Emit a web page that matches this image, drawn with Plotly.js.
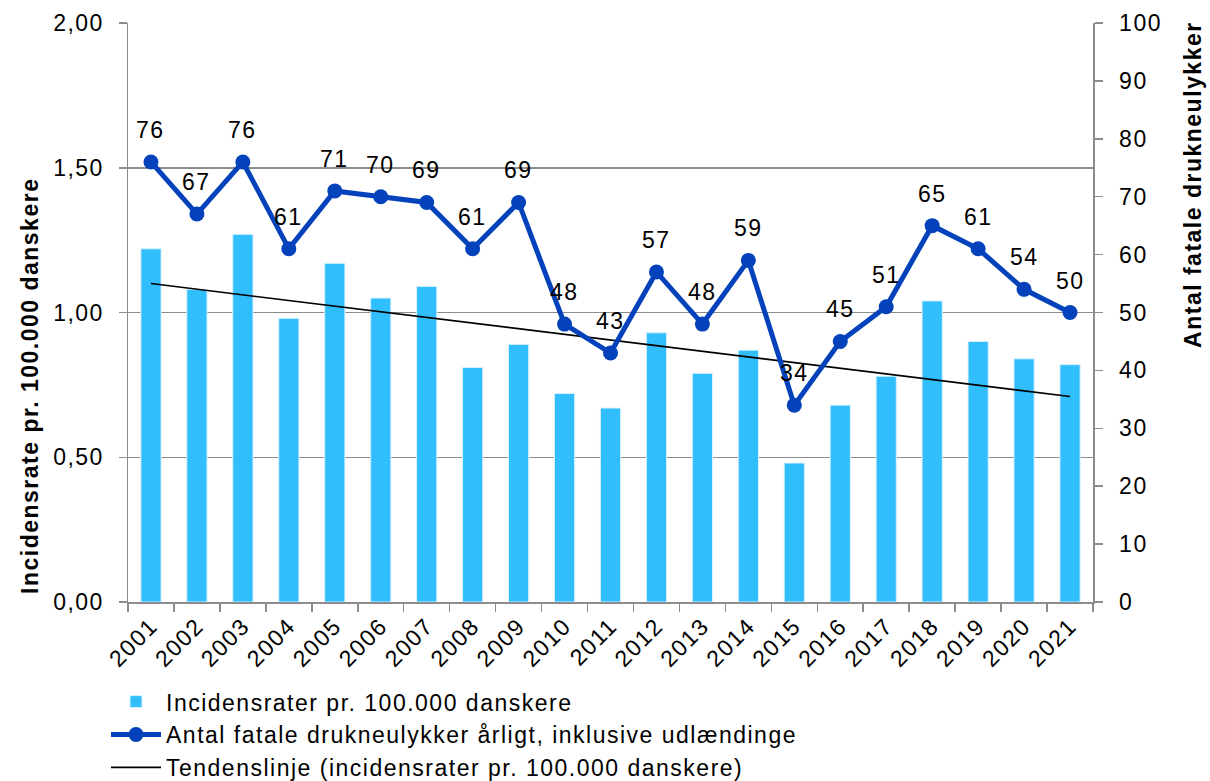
<!DOCTYPE html>
<html>
<head>
<meta charset="utf-8">
<script src="https://cdn.plot.ly/plotly-3.0.1.min.js"></script>
<style>
html,body{margin:0;padding:0;background:#fff;}
#chart{width:1210px;height:781px;}
svg text{letter-spacing:1.5px;}
</style>
</head>
<body>
<div id="chart"></div>
<script>
const years = [2001,2002,2003,2004,2005,2006,2007,2008,2009,2010,2011,2012,2013,2014,2015,2016,2017,2018,2019,2020,2021];
const yearLabels = ['2001','2002','2003','2004','2005','2006','2007','2008','2009','2010','2011','2012','2013','2014','2015','2016','2017','2018','2019','2020','2021'];
const incidence = [1.22,1.08,1.27,0.98,1.17,1.05,1.09,0.81,0.89,0.72,0.67,0.93,0.79,0.87,0.48,0.68,0.78,1.04,0.90,0.84,0.82];
const fatalities = [76,67,76,61,71,70,69,61,69,48,43,57,48,59,34,45,51,65,61,54,50];
const trendYears = [2001,2021];
const trendValues = [1.10,0.71];

const barName = 'Incidensrater pr. 100.000 danskere';
const lineName = 'Antal fatale drukneulykker årligt, inklusive udlændinge';
const trendName = 'Tendenslinje (incidensrater pr. 100.000 danskere)';
const leftTitle = 'Incidensrate pr. 100.000 danskere';
const rightTitle = 'Antal fatale drukneulykker';

const font = 'Liberation Sans, Arial, sans-serif';
const fs = 23;
const gray = '#8C8C8C';

const traces = [
  {type:'bar', x: years, y: incidence, name: barName, width:0.44,
   marker:{color:'#31BEFC', line:{color:'#D8F1FF', width:1}}, yaxis:'y'},
  {type:'scatter', mode:'lines+markers', x: years, y: fatalities, name: lineName, yaxis:'y2',
   line:{color:'#0342BA', width:5}, marker:{color:'#0342BA', size:15}},
  {type:'scatter', mode:'lines', x: trendYears, y: trendValues, name: trendName, yaxis:'y',
   line:{color:'#000000', width:1.6}}
];

const annotations = years.map((yr, i) => ({
  x: yr, y: fatalities[i], xref:'x', yref:'y2', text: String(fatalities[i]),
  showarrow:false, yshift: 32, font:{family:font, size:fs, color:'#000'}
}));
annotations.push({xref:'paper', yref:'paper', x:-0.1016, y:0.373, text:leftTitle, textangle:-90,
  showarrow:false, xanchor:'center', yanchor:'middle', font:{family:font, size:fs, color:'#000', weight:'bold'}});
annotations.push({xref:'paper', yref:'paper', x:1.1036, y:0.722, text:rightTitle, textangle:-90,
  showarrow:false, xanchor:'center', yanchor:'middle', font:{family:font, size:fs, color:'#000', weight:'bold'}});

const layout = {
  width:1210, height:781,
  margin:{l:128, r:117, t:23, b:179, autoexpand:false},
  paper_bgcolor:'#fff', plot_bgcolor:'#fff',
  separators: ',.',
  font:{family:font, size:fs, color:'#000'},
  showlegend:true,
  xaxis:{type:'linear', range:[2000.5, 2021.5], tickmode:'array', tickvals: years, ticktext: yearLabels,
         ticks:'', ticklen:0, tickangle:-45,
         minor:{tickmode:'linear', tick0:2000.5, dtick:1, ticks:'outside', ticklen:8, tickcolor:gray, tickwidth:1.5, showgrid:false},
         showline:true, linecolor:gray, linewidth:1.5, showgrid:false, zeroline:false,
         tickfont:{family:font, size:fs}, automargin:false},
  yaxis:{range:[0,2], dtick:0.5, tick0:0, tickformat:'.2f', ticks:'outside', ticklen:8, tickcolor:gray, tickwidth:1.5,
         showline:true, linecolor:gray, linewidth:1.5, showgrid:true, gridcolor:gray, gridwidth:1.5,
         zeroline:false, tickfont:{family:font, size:fs}, automargin:false, ticklabelstandoff:10},
  yaxis2:{range:[0,100], dtick:10, tick0:0, overlaying:'y', side:'right', ticks:'outside', ticklen:8, tickcolor:gray, tickwidth:1.5,
          showline:true, linecolor:gray, linewidth:1.5, showgrid:false, zeroline:false,
          tickfont:{family:font, size:fs}, automargin:false, ticklabelstandoff:12},
  legend:{orientation:'v', x:-0.0228, xanchor:'left', y:-0.135, yanchor:'top', font:{family:font, size:fs},
          bgcolor:'rgba(0,0,0,0)', tracegroupgap:0, traceorder:'normal', itemwidth:50},
  annotations: annotations
};

Plotly.newPlot('chart', traces, layout, {displayModeBar:false, staticPlot:true});
</script>
</body>
</html>
